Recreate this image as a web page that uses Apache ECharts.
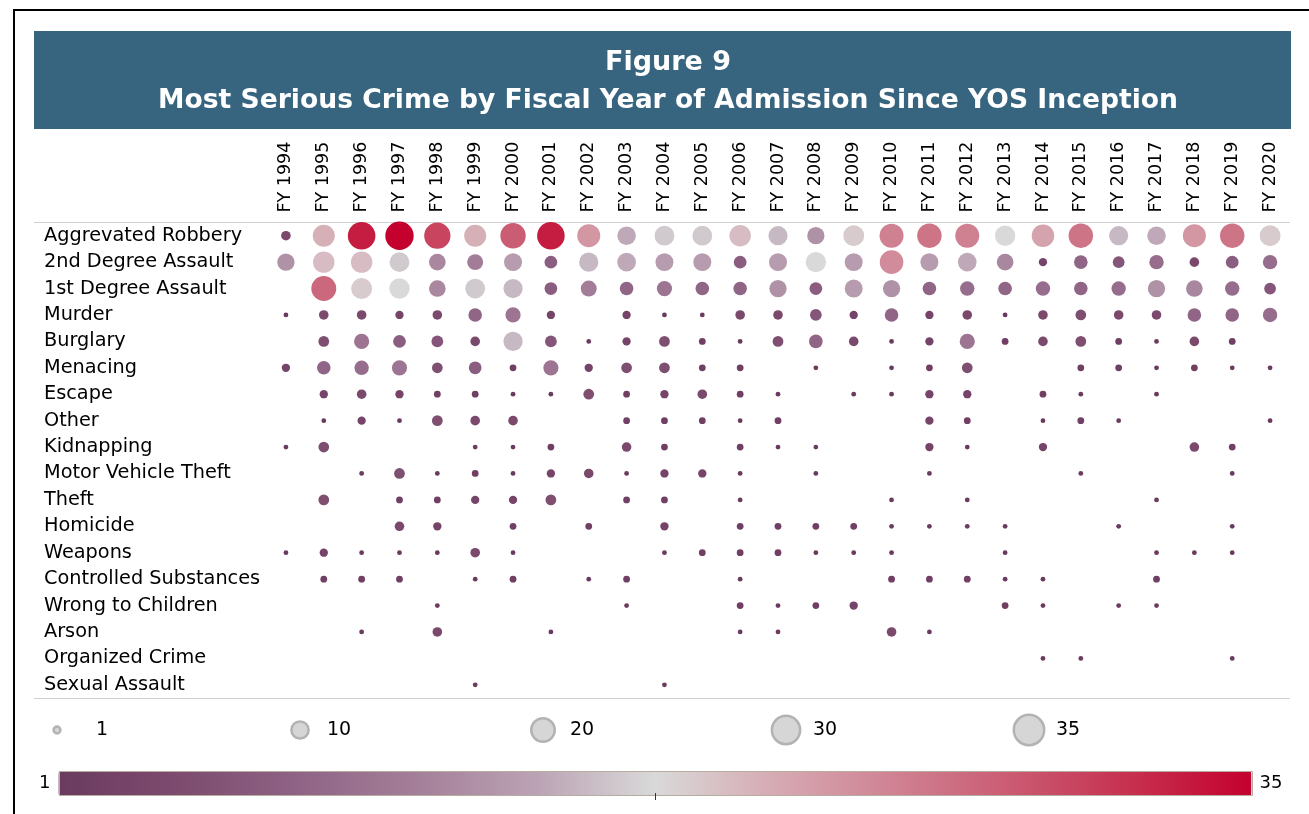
<!DOCTYPE html>
<html>
<head>
<meta charset="utf-8">
<script src="https://cdn.jsdelivr.net/npm/echarts@6/dist/echarts.min.js"></script>
<style>
  html, body { margin: 0; padding: 0; background: #fff; }
  #chart { width: 1309px; height: 814px; }
</style>
</head>
<body>
<div id="chart"></div>
<script>
var years = ['FY 1994', 'FY 1995', 'FY 1996', 'FY 1997', 'FY 1998', 'FY 1999', 'FY 2000', 'FY 2001', 'FY 2002',
    'FY 2003', 'FY 2004', 'FY 2005', 'FY 2006', 'FY 2007', 'FY 2008', 'FY 2009', 'FY 2010', 'FY 2011', 'FY 2012',
    'FY 2013', 'FY 2014', 'FY 2015', 'FY 2016', 'FY 2017', 'FY 2018', 'FY 2019', 'FY 2020'];

var crimes = ['Aggrevated Robbery', '2nd Degree Assault', '1st Degree Assault', 'Murder', 'Burglary', 'Menacing',
    'Escape', 'Other', 'Kidnapping', 'Motor Vehicle Theft', 'Theft', 'Homicide', 'Weapons', 'Controlled Substances',
    'Wrong to Children', 'Arson', 'Organized Crime', 'Sexual Assault'];

// admissions per fiscal year, FY1994 .. FY2020 (null = none)
var aggravatedRobbery = [4, 21, 33, 35, 30, 21, 28, 33, 23, 15, 17, 17, 20, 16, 13, 19, 25, 26, 25, 18, 22, 26, 16, 15, 23, 26, 19];
var secondDegreeAssault = [13, 20, 20, 17, 12, 11, 14, 7, 16, 15, 14, 14, 7, 14, 18, 14, 24, 14, 15, 12, 3, 8, 6, 9, 4, 7, 9];
var firstDegreeAssault = [null, 27, 19, 18, 12, 17, 16, 7, 11, 8, 10, 8, 8, 13, 7, 14, 13, 8, 9, 8, 9, 8, 9, 13, 12, 9, 6];
var murder = [1, 4, 4, 3, 4, 8, 10, 3, null, 3, 1, 1, 4, 4, 6, 3, 8, 3, 4, 1, 4, 5, 4, 4, 8, 8, 9];
var burglary = [null, 5, 10, 7, 6, 4, 16, 6, 1, 3, 5, 2, 1, 5, 8, 4, 1, 3, 10, 2, 4, 5, 2, 1, 4, 2, null];
var menacing = [3, 8, 9, 10, 5, 7, 2, 10, 3, 5, 5, 2, 2, null, 1, null, 1, 2, 5, null, null, 2, 2, 1, 2, 1, 1];
var escape = [null, 3, 4, 3, 2, 2, 1, 1, 5, 2, 3, 4, 2, 1, null, 1, 1, 3, 3, null, 2, 1, null, 1, null, null, null];
var other = [null, 1, 3, 1, 5, 4, 4, null, null, 2, 2, 2, 1, 2, null, null, null, 3, 2, null, 1, 2, 1, null, null, null, 1];
var kidnapping = [1, 5, null, null, null, 1, 1, 2, null, 4, 2, null, 2, 1, 1, null, null, 3, 1, null, 3, null, null, null, 4, 2, null];
var motorVehicleTheft = [null, null, 1, 5, 1, 2, 1, 3, 4, 1, 3, 3, 1, null, 1, null, null, 1, null, null, null, 1, null, null, null, 1, null];
var theft = [null, 5, null, 2, 2, 3, 3, 5, null, 2, 2, null, 1, null, null, null, 1, null, 1, null, null, null, null, 1, null, null, null];
var homicide = [null, null, null, 4, 3, null, 2, null, 2, null, 3, null, 2, 2, 2, 2, 1, 1, 1, 1, null, null, 1, null, null, 1, null];
var weapons = [1, 3, 1, 1, 1, 4, 1, null, null, null, 1, 2, 2, 2, 1, 1, 1, null, null, 1, null, null, null, 1, 1, 1, null];
var controlledSubstances = [null, 2, 2, 2, null, 1, 2, null, 1, 2, null, null, 1, null, null, null, 2, 2, 2, 1, 1, null, null, 2, null, null, null];
var wrongToChildren = [null, null, null, null, 1, null, null, null, null, 1, null, null, 2, 1, 2, 3, null, null, null, 2, 1, null, 1, 1, null, null, null];
var arson = [null, null, 1, null, 4, null, null, 1, null, null, null, null, 1, 1, null, null, 4, 1, null, null, null, null, null, null, null, null, null];
var organizedCrime = [null, null, null, null, null, null, null, null, null, null, null, null, null, null, null, null, null, null, null, null, 1, 1, null, null, null, 1, null];
var sexualAssault = [null, null, null, null, null, 1, null, null, null, null, 1, null, null, null, null, null, null, null, null, null, null, null, null, null, null, null, null];

var sizeLegendValues = [1, 10, 20, 30, 35];
var colorMin = 1, colorMax = 35;
// diverging ramp, low (plum) -> mid (grey) -> high (crimson)
var colorRamp = ['#6b3a5f', '#7c4b6e', '#8f6385', '#a47f99', '#bba2b4', '#d9d9d9',
    '#d6aab3', '#cf8293', '#ca5a72', '#c6304f', '#c4002f'];

var rows = [aggravatedRobbery, secondDegreeAssault, firstDegreeAssault, murder, burglary, menacing, escape, other,
    kidnapping, motorVehicleTheft, theft, homicide, weapons, controlledSubstances, wrongToChildren, arson,
    organizedCrime, sexualAssault];

var cells = [];
rows.forEach(function (row, r) {
    row.forEach(function (v, c) {
        if (v != null) cells.push([c, r, v]);
    });
});

function bubbleSize(v) {
    return Math.sqrt(v) * 4.8;
}

var font = 'DejaVu Sans';
var chart = echarts.init(document.getElementById('chart'));
var option = {
    animation: false,
    textStyle: {fontFamily: font},
    title: [
        {
            text: 'Figure 9', left: 663, top: 44, textAlign: 'center',
            textStyle: {color: '#fff', fontSize: 27, fontWeight: 'bold', fontFamily: font}
        },
        {
            text: 'Most Serious Crime by Fiscal Year of Admission Since YOS Inception', left: 663, top: 83, textAlign: 'center',
            textStyle: {color: '#fff', fontSize: 26.6, fontWeight: 'bold', fontFamily: font}
        }
    ],
    grid: [
        {left: 267, top: 222.5, width: 1022, height: 475.5},
        {left: 57, top: 715, width: 972, height: 30}
    ],
    xAxis: [
        {
            type: 'category', gridIndex: 0, position: 'top', data: years,
            axisLine: {show: false}, axisTick: {show: false}, splitLine: {show: false},
            axisLabel: {rotate: -90, margin: 10, color: '#000', fontSize: 17.5, interval: 0}
        },
        {
            type: 'category', gridIndex: 1, data: sizeLegendValues, boundaryGap: false, show: false
        }
    ],
    yAxis: [
        {
            type: 'category', gridIndex: 0, inverse: true, data: crimes,
            axisLine: {show: false}, axisTick: {show: false}, splitLine: {show: false},
            axisLabel: {align: 'left', margin: 223, color: '#000', fontSize: 19.3, interval: 0}
        },
        {
            type: 'value', gridIndex: 1, min: 0, max: 1, show: false
        }
    ],
    visualMap: {
        type: 'continuous',
        seriesIndex: 0,
        dimension: 2,
        min: colorMin,
        max: colorMax,
        orient: 'horizontal',
        left: 24,
        top: 756,
        itemWidth: 25,
        itemHeight: 1193,
        calculable: false,
        hoverLink: false,
        realtime: false,
        text: ['35', '1'],
        textGap: 8,
        textStyle: {color: '#000', fontSize: 18, fontFamily: font},
        inRange: {color: colorRamp}
    },
    series: [
        {
            name: 'Admissions',
            type: 'scatter',
            xAxisIndex: 0,
            yAxisIndex: 0,
            data: cells,
            symbolSize: function (d) { return bubbleSize(d[2]); },
            itemStyle: {opacity: 1}
        },
        {
            name: 'Size legend',
            type: 'scatter',
            xAxisIndex: 1,
            yAxisIndex: 1,
            data: sizeLegendValues.map(function (v, i) { return [i, 0.5, v]; }),
            symbolSize: function (d) { return bubbleSize(d[2]) + 2; },
            itemStyle: {color: '#d6d6d6', borderColor: '#b3b3b3', borderWidth: 2.5, opacity: 1},
            label: {
                show: true, position: 'inside', align: 'left', offset: [27, 0],
                formatter: function (p) { return p.data[2] === 1 ? '  1' : p.data[2]; },
                color: '#000', fontSize: 19, fontFamily: font
            }
        }
    ],
    graphic: [
        {type: 'polyline', shape: {points: [[14, 814], [14, 10], [1309, 10]]}, style: {stroke: '#000', lineWidth: 2, fill: null}},
        {type: 'rect', z: -1, shape: {x: 34, y: 31, width: 1257, height: 98}, style: {fill: '#37657f'}},
        {type: 'line', shape: {x1: 34, y1: 222.5, x2: 1290, y2: 222.5}, style: {stroke: '#d0d0d0', lineWidth: 1}},
        {type: 'line', shape: {x1: 34, y1: 698.5, x2: 1290, y2: 698.5}, style: {stroke: '#d0d0d0', lineWidth: 1}},
        {type: 'rect', z: 100, shape: {x: 59.5, y: 771.5, width: 1193, height: 24}, style: {fill: null, stroke: '#b5ad9f', lineWidth: 1}},
        {type: 'line', z: 100, shape: {x1: 655.5, y1: 793, x2: 655.5, y2: 800}, style: {stroke: '#333', lineWidth: 1}}
    ]
};
chart.setOption(option);
</script>
</body>
</html>
